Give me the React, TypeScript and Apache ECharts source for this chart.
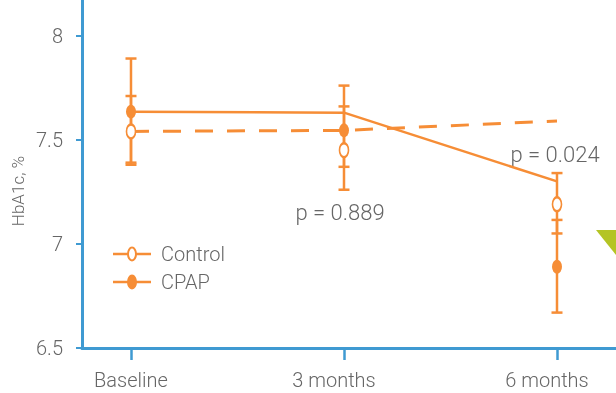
import React, { useEffect, useRef } from "react";
import * as echarts from "echarts";

const categories = ["Baseline", "3 months", "6 months"];
const controlMean = [7.54, 7.45, 7.19];
const controlLow = [7.38, 7.26, 7.05];
const controlHigh = [7.71, 7.66, 7.34];
const cpapMean = [7.635, 7.545, 6.89];
const cpapLow = [7.39, 7.37, 6.67];
const cpapHigh = [7.89, 7.76, 7.115];
const cpapTrend = [7.635, 7.63, 7.3];
const controlTrend = [7.54, 7.545, 7.59];
const yTicks = [6.5, 7, 7.5, 8];
const seriesNames = ["Control", "CPAP"];
const pLabels = ["p = 0.889", "p = 0.024"];

const ORANGE = "#F68D36";
const BLUE = "#3F9AD2";
const GREY = "#666666";
const FONT = "Roboto, 'Liberation Sans', Arial, sans-serif";
const ELLIPSE = "path://M5,0 A5,5 0 1,1 5,10 A5,5 0 1,1 5,0 Z";

function errorBarSeries(low: number[], high: number[], name: string) {
  return {
    type: "custom",
    name,
    z: 3,
    data: low.map((l, i) => [i, l, high[i]]),
    renderItem: (params: any, api: any) => {
      const x = api.value(0);
      const top = api.coord([x, api.value(2)]);
      const bot = api.coord([x, api.value(1)]);
      const half = 5.5;
      const style = { stroke: ORANGE, lineWidth: 2.5 };
      return {
        type: "group",
        children: [
          { type: "line", shape: { x1: top[0], y1: top[1], x2: bot[0], y2: bot[1] }, style },
          { type: "line", shape: { x1: top[0] - half, y1: top[1], x2: top[0] + half, y2: top[1] }, style },
          { type: "line", shape: { x1: bot[0] - half, y1: bot[1], x2: bot[0] + half, y2: bot[1] }, style },
        ],
      };
    },
  };
}

function legendItem(y: number, name: string, filled: boolean) {
  return {
    type: "group",
    children: [
      { type: "line", shape: { x1: 113, y1: y, x2: 151, y2: y }, style: { stroke: ORANGE, lineWidth: 2.5 } },
      {
        type: "ellipse",
        shape: { cx: 132, cy: y, rx: 4, ry: 6.5 },
        style: { fill: filled ? ORANGE : "#fff", stroke: ORANGE, lineWidth: 2 },
      },
      {
        type: "text",
        x: 161,
        y: y,
        style: { text: name, fill: GREY, font: `300 20px ${FONT}`, textVerticalAlign: "middle" },
      },
    ],
  };
}

export default function App() {
  const ref = useRef<HTMLDivElement>(null);
  useEffect(() => {
    if (!ref.current) return;
    const chart = echarts.init(ref.current, null, { renderer: "svg" });
    chart.setOption({
      animation: false,
      grid: { left: 82, right: 0, top: 0, bottom: 45, containLabel: false },
      xAxis: {
        type: "value",
        min: -0.23,
        max: 2.277,
        splitLine: { show: false },
        axisLine: { show: true, onZero: false, lineStyle: { color: BLUE, width: 3 } },
        axisTick: { show: true, length: 12, customValues: [0, 1, 2], lineStyle: { color: BLUE, width: 2.5 } },
        axisLabel: {
          customValues: [0, 1, 2],
          margin: 22,
          color: GREY,
          fontSize: 20,
          fontFamily: FONT,
          fontWeight: 300,
          formatter: (v: number) => {
            const i = Math.round(v);
            return i === 0 ? categories[i] : `{s|${categories[i]}}`;
          },
          rich: { s: { padding: [0, 20, 0, 0], color: GREY, fontSize: 20, fontFamily: FONT, fontWeight: 300 } },
        },
      },
      yAxis: {
        type: "value",
        min: 6.5,
        max: 8.171,
        splitLine: { show: false },
        axisLine: { show: true, onZero: false, lineStyle: { color: BLUE, width: 3 } },
        axisTick: { show: true, length: 6, customValues: yTicks, lineStyle: { color: BLUE, width: 2 } },
        axisLabel: {
          customValues: yTicks,
          margin: 19,
          color: GREY,
          fontSize: 20,
          fontFamily: FONT,
          fontWeight: 300,
          formatter: (v: number) => String(v),
        },
      },
      graphic: [
        {
          type: "text",
          x: 18,
          y: 191,
          rotation: Math.PI / 2,
          style: { text: "HbA1c, %", fill: GREY, font: `300 17px ${FONT}`, textAlign: "center", textVerticalAlign: "middle" },
        },
        {
          type: "text",
          x: 340,
          y: 212,
          style: { text: pLabels[0], fill: GREY, font: `300 22px ${FONT}`, textAlign: "center", textVerticalAlign: "middle" },
        },
        {
          type: "text",
          x: 555,
          y: 154,
          style: { text: pLabels[1], fill: GREY, font: `300 22px ${FONT}`, textAlign: "center", textVerticalAlign: "middle" },
        },
        legendItem(254, seriesNames[0], false),
        legendItem(282, seriesNames[1], true),
        {
          type: "polygon",
          shape: { points: [[596, 230], [616, 230], [616, 255]] },
          style: { fill: "#B4C424" },
        },
      ],
      series: [
        {
          type: "line",
          name: "CPAP trend",
          z: 2,
          symbol: "none",
          data: cpapTrend.map((v, i) => [i, v]),
          lineStyle: { color: ORANGE, width: 2.5 },
        },
        {
          type: "line",
          name: "Control trend",
          z: 2,
          symbol: "none",
          data: controlTrend.map((v, i) => [i, v]),
          lineStyle: { color: ORANGE, width: 3, type: [18, 14] },
        },
        errorBarSeries(controlLow, controlHigh, "Control error"),
        errorBarSeries(cpapLow, cpapHigh, "CPAP error"),
        {
          type: "scatter",
          name: seriesNames[0],
          z: 5,
          symbol: ELLIPSE,
          symbolSize: [9, 14],
          data: controlMean.map((v, i) => [i, v]),
          itemStyle: { color: "#fff", borderColor: ORANGE, borderWidth: 2, opacity: 1 },
        },
        {
          type: "scatter",
          name: seriesNames[1],
          z: 5,
          symbol: ELLIPSE,
          symbolSize: [10, 14],
          data: cpapMean.map((v, i) => [i, v]),
          itemStyle: { color: ORANGE, opacity: 1 },
        },
      ],
    });
    return () => chart.dispose();
  }, []);
  return <div ref={ref} style={{ position: "fixed", left: 0, top: 0, width: 616, height: 393 }} />;
}
